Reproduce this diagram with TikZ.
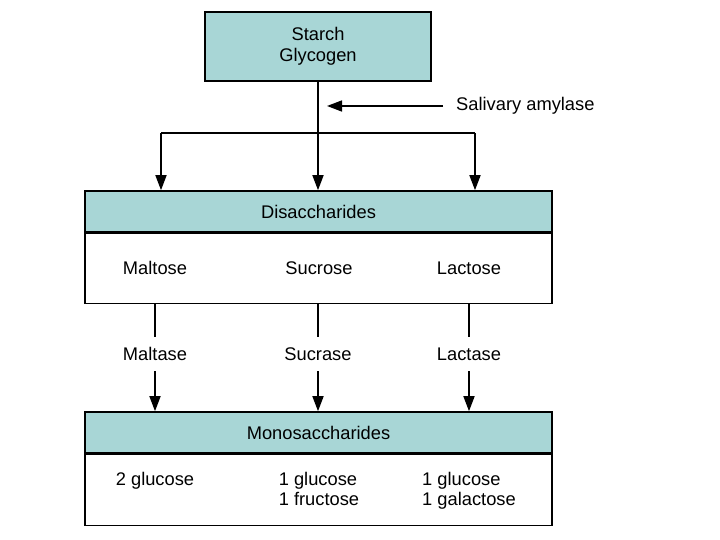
\documentclass[tikz,border=0pt]{standalone}
\usepackage{fontspec}
\setmainfont{Liberation Sans}
\usetikzlibrary{arrows.meta}
\definecolor{teal1}{RGB}{168,214,214}
\begin{document}
\begin{tikzpicture}[x=1pt,y=-1pt,
  font=\fontsize{18.3}{20.5}\selectfont,
  box/.style={draw=black,line width=1.6pt,rectangle,inner sep=0pt},
  hbox/.style={box,fill=teal1},
  lbl/.style={inner sep=0pt},
  line/.style={line width=1.6pt},
  arr/.style={line width=1.6pt,-{Triangle[length=15pt,width=11pt]}}]
\useasboundingbox (0,0) rectangle (720,540);
% top box
\node[hbox,minimum width=226pt,minimum height=69pt,align=center] (top) at (318,46.5) {Starch\\Glycogen};
% disaccharides
\node[hbox,minimum width=467pt,minimum height=41pt] (dhead) at (318.5,211.5) {Disaccharides};
\node[box,minimum width=467pt,minimum height=70pt,anchor=north] (dbody) at (dhead.south) {};
\node[lbl] (maltose) at (155,268) {Maltose};
\node[lbl] (sucrose) at (319,268) {Sucrose};
\node[lbl] (lactose) at (469,268) {Lactose};
% monosaccharides
\node[hbox,minimum width=467pt,minimum height=41pt] (mhead) at (318.5,432.5) {Monosaccharides};
\node[box,minimum width=467pt,minimum height=71pt,anchor=north] (mbody) at (mhead.south) {};
\node[lbl,anchor=base] (g2) at (155,485) {2 glucose};
\node[lbl,anchor=base] (gf) at (319,485) {\begin{tabular}[t]{@{}l@{}}1 glucose\\1 fructose\end{tabular}};
\node[lbl,anchor=base] (gg) at (469,485) {\begin{tabular}[t]{@{}l@{}}1 glucose\\1 galactose\end{tabular}};
% enzymes
\node[lbl,minimum height=34pt] (maltase) at (155,354) {Maltase};
\node[lbl,minimum height=34pt] (sucrase) at (318,354) {Sucrase};
\node[lbl,minimum height=34pt] (lactase) at (469,354) {Lactase};
% salivary amylase
\node[lbl,anchor=west] (sal) at (456,106) {Salivary amylase};
\coordinate (salend) at (327,106);
\draw[arr] ([xshift=-13pt]sal.west) -- (salend);
% branching
\coordinate (jL) at (161,133);
\coordinate (jR) at (475,133);
\draw[arr] (top.south) -- (top.south |- dhead.north);
\draw[line] (jL) -- (jR);
\draw[arr] (jL) -- (jL |- dhead.north);
\draw[arr] (jR) -- (jR |- dhead.north);
% enzyme connectors
\draw[line] (dbody.south -| maltase) -- (maltase.north);
\draw[line] (dbody.south -| sucrase) -- (sucrase.north);
\draw[line] (dbody.south -| lactase) -- (lactase.north);
\draw[arr] (maltase.south) -- (maltase.south |- mhead.north);
\draw[arr] (sucrase.south) -- (sucrase.south |- mhead.north);
\draw[arr] (lactase.south) -- (lactase.south |- mhead.north);
\end{tikzpicture}
\end{document}
